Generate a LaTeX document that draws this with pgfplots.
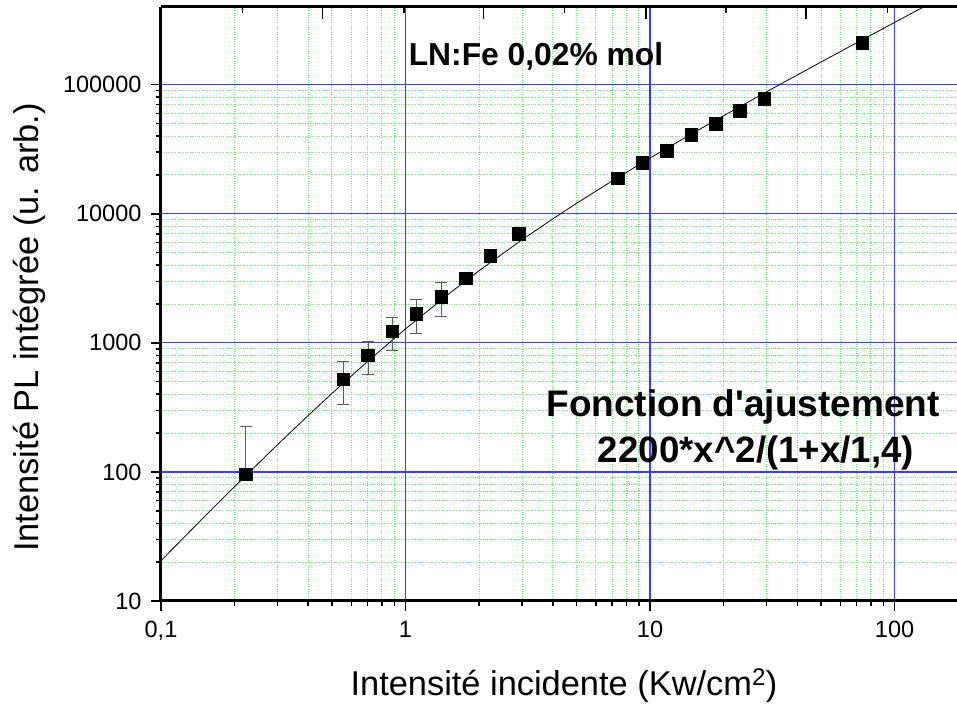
\documentclass[border=0pt]{standalone}
\usepackage{pgfplots}
\pgfplotsset{compat=1.18}
\usepackage{fontspec}
\setmainfont{Liberation Sans}
\definecolor{majgrid}{RGB}{60,60,245}
\definecolor{mingrid}{RGB}{110,235,110}
\definecolor{errgray}{RGB}{90,90,90}
\begin{document}
\begin{tikzpicture}[x=1pt,y=1pt]
\useasboundingbox (0,0) rectangle (957,706);
\begin{axis}[
  at={(161pt,105pt)}, anchor=south west,
  scale only axis, width=796pt, height=594pt,
  xmode=log, ymode=log,
  xmin=0.1, xmax=180, ymin=10, ymax=4e5,
  axis y line*=left,
  xtick pos=bottom,
  xtick={0.1,1,10,100}, xticklabels={{0,1},1,10,100},
  ytick={10,100,1000,10000,100000}, yticklabels={10,100,1000,10000,100000},
  tick align=outside,
  major tick length=10pt, minor tick length=5pt,
  tick style={draw=black, line width=1.5pt},
  grid=both,
  major grid style={draw=majgrid, line width=1.3pt},
  minor grid style={draw=mingrid, dotted, line width=0.9pt},
  axis line style={line width=3pt},
  ticklabel style={font=\fontsize{23.5}{23.5}\selectfont},
  yticklabel style={xshift=-6pt},
  xticklabel style={yshift=-7pt},
  /pgf/number format/assume math mode=true,
]
% fit curve 2200*x^2/(1+x/1,4), sampled
\addplot[black, line width=0.8pt, no marks] coordinates {
(0.1,20.53) (0.15,44.71) (0.2,77.0) (0.3,163.06) (0.4,273.8) (0.5,405.3)
(0.7,718.7) (1,1283.3) (1.5,2389.7) (2,3623.5) (3,6300) (4,9126) (5,12031)
(7,17967) (10,27018) (15,42256) (20,57570) (30,88280) (50,149805)
(70,211373) (100,303748) (130,396135) (135,411523)
};
% data with error bars
\addplot[only marks, mark=square*, mark size=6.3pt, black,
  error bars/.cd, y dir=both, y explicit,
  error bar style={errgray, line width=0.8pt},
  error mark options={rotate=90, mark size=6pt, errgray, line width=0.8pt}]
  table[x=x, y=y, y error plus=ep, y error minus=em] {
x y ep em
0.222 96 131 0
0.557 522 201 189
0.702 800 227 232
0.883 1228 357 353
1.107 1683 500 505
1.397 2275 649 672
};
\addplot[only marks, mark=square*, mark size=6.3pt, black] coordinates {
(1.762,3170) (2.216,4753) (2.91,7030) (7.38,18840) (9.30,24780)
(11.7,30830) (14.74,41000) (18.55,49900) (23.3,63200) (29.3,78000)
(73.8,212000)
};
\end{axis}
\begin{axis}[
  at={(161pt,105pt)}, anchor=south west,
  scale only axis, width=796pt, height=594pt,
  xmode=log, ymode=log,
  xmin=0.1, xmax=180, ymin=10, ymax=4e5,
  axis x line*=top, axis y line=none,
  xtick={0.4567,2.081,9.603,43.45},
  minor xtick={0.2150,0.986,4.462,20.46,93.45},
  xticklabels={},
  tick align=inside,
  major tick length=12pt, minor tick length=6pt,
  tick style={draw=black, line width=1.5pt},
  axis line style={line width=3pt},
]
\end{axis}
\node[anchor=base, font=\fontsize{34.4}{34.4}\selectfont] at (564,11) {Intensité incidente (Kw/cm\textsuperscript{2})};
\node[anchor=base, rotate=90, font=\fontsize{34.4}{34.4}\selectfont] at (38,378.5) {Intensité PL intégrée (u. arb.)};
\node[anchor=base, font=\bfseries\fontsize{31.8}{31.8}\selectfont] at (536,640) {LN:Fe 0,02\% mol};
\node[anchor=base, font=\bfseries\fontsize{37}{37}\selectfont] at (743,289) {Fonction d\textquotesingle ajustement};
\node[anchor=base, font=\bfseries\fontsize{36.7}{36.7}\selectfont] at (756,243) {2200*x\textasciicircum 2/(1+x/1,4)};
\end{tikzpicture}
\end{document}
